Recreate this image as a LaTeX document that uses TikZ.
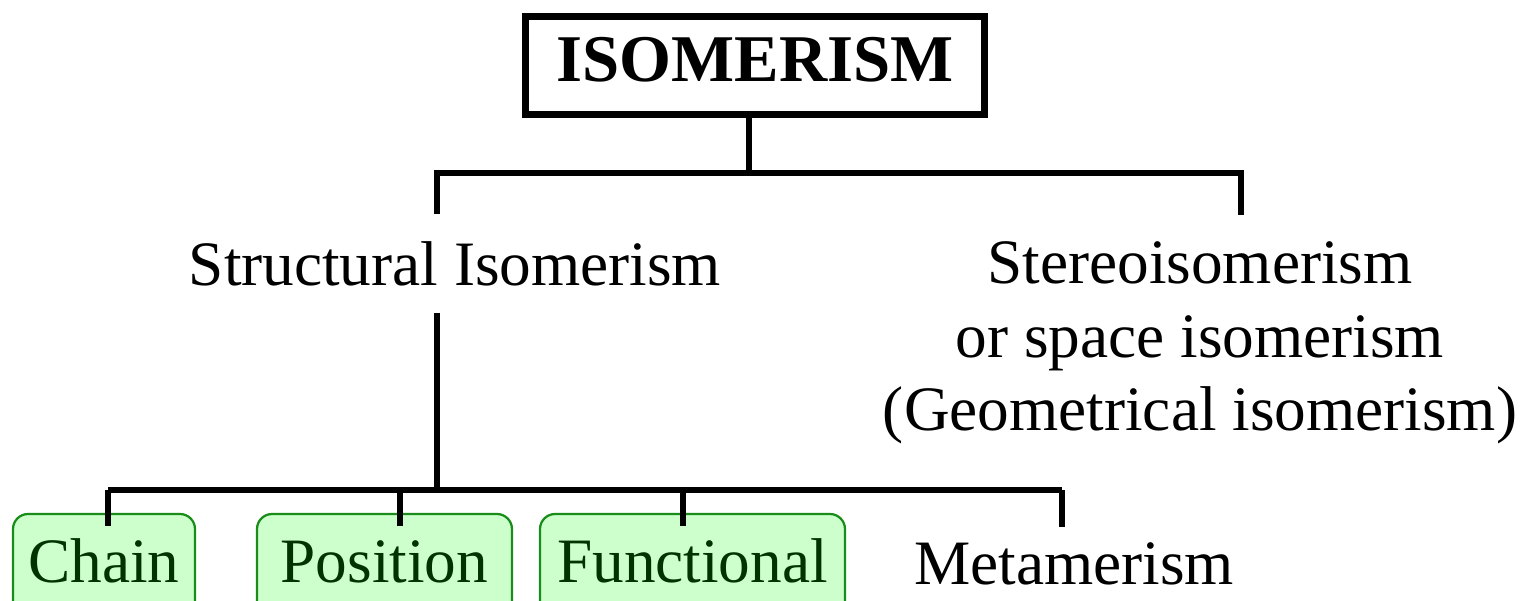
\documentclass[tikz,border=0pt]{standalone}
\usepackage{fontspec}
\setmainfont{Liberation Serif}
\definecolor{boxgreen}{HTML}{1A8C1A}
\definecolor{boxfill}{HTML}{CCFFCC}
\definecolor{textgreen}{HTML}{003300}
\begin{document}
\begin{tikzpicture}[x=0.02cm,y=-0.02cm,
  conn/.style={line width=0.12cm, draw=black},
  lbl/.style={font=\fontsize{36}{42}\selectfont, inner sep=0pt, anchor=base},
  gbox/.style={lbl, draw=boxgreen, fill=boxfill, text=textgreen, line width=0.045cm,
    rounded corners=0.3cm, inner xsep=0pt, inner ysep=0.5cm, text height=0.86cm, text depth=0.3cm},
  isobox/.style={draw, line width=0.14cm, minimum width=9.18cm, minimum height=1.98cm,
    inner sep=0pt, font=\bfseries\fontsize{38}{44}\selectfont, text height=0.88cm, text depth=0.22cm}]
\useasboundingbox (0,0) rectangle (1538,601);
\clip (0,0) rectangle (1538,601);

% nodes
\node[isobox] (iso) at (755,65.5) {ISOMERISM};
\node[lbl] (struct) at (455,285) {Structural Isomerism};
\node[lbl, align=center, anchor=north] (stereo) at (1200,241)
  {Stereoisomerism\\or space isomerism\\(Geometrical isomerism)};
\node[gbox, minimum width=3.64cm] (chain) at (104,582) {Chain};
\node[gbox, minimum width=5.1cm] (position) at (384.5,582) {Position};
\node[gbox, minimum width=6.1cm] (functional) at (692.5,582) {Functional};
\node[lbl] (meta) at (1074,584) {Metamerism};

% junction coordinates
\coordinate (top) at (749,173);
\coordinate (L) at (437,173);
\coordinate (R) at (1241,173);
\coordinate (V) at (437,490);
\coordinate (b1) at (108,490);
\coordinate (b2) at (400,490);
\coordinate (b3) at (683,490);
\coordinate (b4) at (1062,490);

% connectors
\draw[conn] (iso.south -| top) -- (top);
\draw[conn, shorten <=0.54cm, shorten >=0.52cm] (struct.north -| L) -- (L) -- (R) -- (stereo.north -| R);
\draw[conn, shorten <=0.54cm] (struct.south -| V) -- (V);
\draw[conn] (b1) -- (b4);
\draw[conn, shorten >=-0.26cm] (b1) -- (b1 |- chain.north);
\draw[conn, shorten >=-0.26cm] (b2) -- (b2 |- position.north);
\draw[conn, shorten >=-0.26cm] (b3) -- (b3 |- functional.north);
\draw[conn, shorten >=0.3cm] (b4) -- (b4 |- meta.north);
\end{tikzpicture}
\end{document}
